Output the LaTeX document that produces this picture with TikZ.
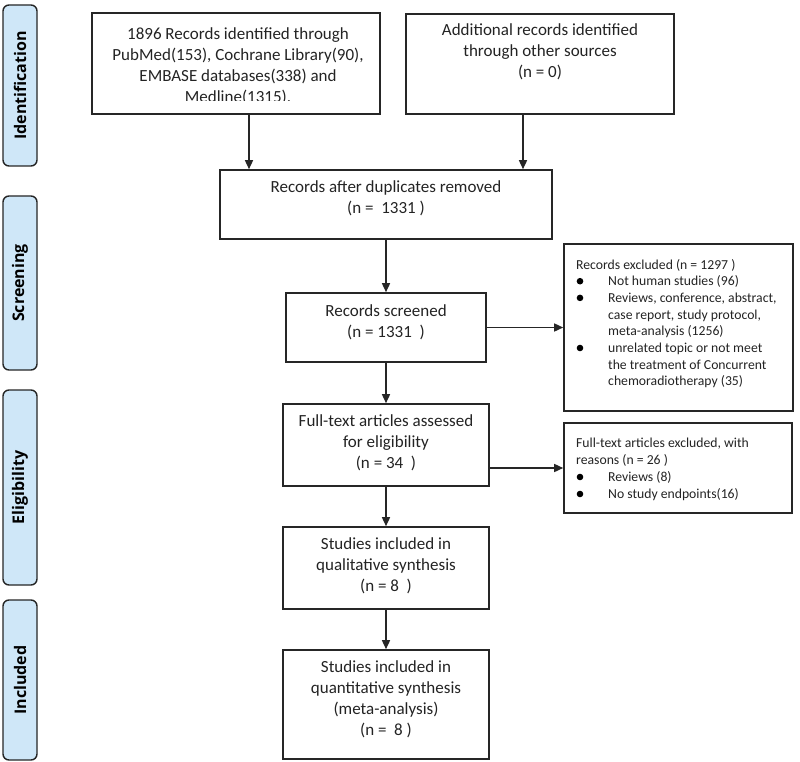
\documentclass[tikz,border=0pt]{standalone}
\usepackage{fontspec}
\setmainfont{Carlito}
\newfontfamily\lblfont{Open Sans}
\usetikzlibrary{arrows.meta}
\definecolor{lblfill}{RGB}{207,231,248}
\definecolor{edge}{RGB}{38,38,38}
\definecolor{ink}{RGB}{35,35,35}
\begin{document}
\begin{tikzpicture}[x=1pt,y=-1pt,
  box/.style={draw=edge, line width=1.6pt, inner sep=0pt, rectangle},
  phase/.style={draw=edge, line width=1.4pt, fill=lblfill, rounded corners=6pt, inner sep=0pt, minimum width=34pt},
  phasetxt/.style={font=\lblfont\bfseries\fontsize{16}{18}\selectfont, rotate=90, text=black, inner sep=0pt},
  txt/.style={font=\fontsize{17}{21}\selectfont, align=center, inner sep=0pt, text=ink},
  sm/.style={font=\fontsize{13.7}{16.7}\selectfont, inner sep=0pt, anchor=base west, text=ink},
  dotb/.style={circle, fill=black, inner sep=0pt, minimum size=6.6pt},
  arr/.style={draw=edge, line width=1.5pt, -{Triangle[length=9pt,width=8pt]}}
]
\useasboundingbox (0,0) rectangle (800,762);

% phase labels
\node[phase, minimum height=161pt] (pid) at (20,85.5) {};
\node[phasetxt] (pidt) at (pid.center) {Identification};
\node[phase, minimum height=174pt] (psc) at (20,283) {};
\node[phasetxt] (psct) at (psc.center) {Screening};
\node[phase, minimum height=195pt] (pel) at (20,487.5) {};
\node[phasetxt] (pelt) at (pel.center) {Eligibility};
\node[phase, minimum height=160pt] (pin) at (20,680) {};
\node[phasetxt] (pint) at (pin.center) {Included};

% main boxes
\node[box, minimum width=288pt, minimum height=101pt] (A) at (236,63.5) {};
\begin{scope}
\clip (92,13) rectangle (380,101);
\node[txt] (At) at (238,66.2) {1896 Records identified through\\PubMed(153), Cochrane Library(90),\\EMBASE databases(338) and\\Medline(1315).};
\end{scope}
\node[box, minimum width=268pt, minimum height=100pt] (B) at (540,64) {};
\node[txt] (Bt) at (540,51.7) {Additional records identified\\through other sources\\(n = 0)};

\node[box, minimum width=332pt, minimum height=69pt] (dup) at (386,204.5) {};
\node[txt] (dupt) at (386,198.2) {Records after duplicates removed\\(n =\ \ 1331 )};

\node[box, minimum width=200pt, minimum height=69pt] (scr) at (386,327.5) {};
\node[txt] (scrt) at (386,322.2) {Records screened\\(n = 1331\ \ )};

\node[box, minimum width=206pt, minimum height=82pt] (ft) at (386,445) {};
\node[txt] (ftt) at (386,443.2) {Full-text articles assessed\\for eligibility\\(n = 34\ \ )};

\node[box, minimum width=206pt, minimum height=82pt] (ql) at (386,568) {};
\node[txt] (qlt) at (386,565.7) {Studies included in\\qualitative synthesis\\(n = 8\ \ )};

\node[box, minimum width=206pt, minimum height=109pt] (qn) at (386,704.5) {};
\node[txt] (qnt) at (386,699.2) {Studies included in\\quantitative synthesis\\(meta-analysis)\\(n =\ \ 8 )};

% exclusion boxes
\node[box, minimum width=229pt, minimum height=167pt] (e1) at (678.5,327.5) {};
\node[sm] (e1h) at (576,269) {Records excluded (n = 1297 )};
\node[sm] (e1a) at (608,285.7) {Not human studies (96)};
\node[sm] (e1b) at (608,302.4) {Reviews, conference, abstract,};
\node[sm] (e1c) at (608,319.1) {case report, study protocol,};
\node[sm] (e1d) at (608,335.8) {meta-analysis (1256)};
\node[sm] (e1e) at (608,352.5) {unrelated topic or not meet};
\node[sm] (e1f) at (608,369.2) {the treatment of Concurrent};
\node[sm] (e1g) at (608,385.9) {chemoradiotherapy (35)};
\node[dotb] (d1) at (580,281.2) {};
\node[dotb] (d2) at (580,297.9) {};
\node[dotb] (d3) at (580,348) {};

\node[box, minimum width=228pt, minimum height=90pt] (e2) at (678,468) {};
\node[sm] (e2h) at (576,447.5) {Full-text articles excluded, with};
\node[sm] (e2i) at (576,464.5) {reasons (n = 26 )};
\node[sm] (e2a) at (608,481.5) {Reviews (8)};
\node[sm] (e2b) at (608,498.5) {No study endpoints(16)};
\node[dotb] (d4) at (580,477) {};
\node[dotb] (d5) at (580,494) {};

% connectors
\draw[arr] ([xshift=13pt]A.south) -- ([xshift=13pt]A.south |- dup.north);
\draw[arr] ([xshift=-17pt]B.south) -- ([xshift=-17pt]B.south |- dup.north);
\draw[arr] (dup.south) -- (scr.north);
\draw[arr] (scr.south) -- (ft.north);
\draw[arr] (ft.south) -- (ql.north);
\draw[arr] (ql.south) -- (qn.north);
\draw[arr] (scr.east) -- (e1.west);
\draw[arr] (ft.east |- e2.west) -- (e2.west);
\end{tikzpicture}
\end{document}
